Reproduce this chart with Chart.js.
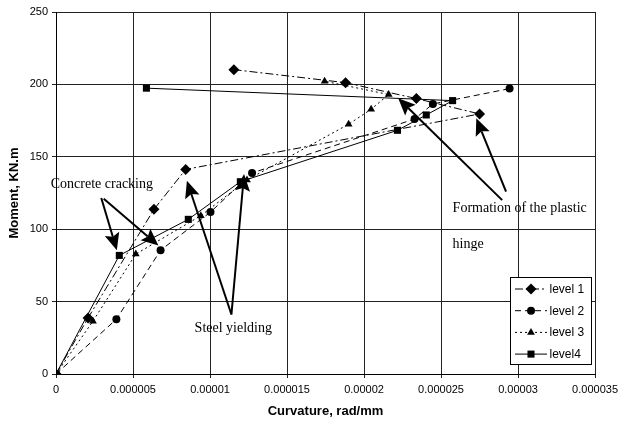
<!DOCTYPE html>
<html>
<head>
<meta charset="utf-8">
<script src="https://cdn.jsdelivr.net/npm/chart.js@4.4.1/dist/chart.umd.min.js"></script>
<style>
  html, body { margin: 0; padding: 0; background: #fff; }
  #wrap { width: 623px; height: 422px; }
</style>
</head>
<body>
<div id="wrap"><canvas id="myCanvas" width="623" height="422"></canvas></div>
<script>
"use strict";

// curvature (rad/mm) and moment (KN.m)
const level1X = [0, 0.00000208, 0.00000636, 0.00000842, 0.0000275, 0.0000234, 0.0000188, 0.00001155];
const level1Y = [0, 38.7, 113.7, 141.3, 179.6, 190.2, 201.2, 210.2];

const level2X = [0, 0.00000392, 0.00000679, 0.00001003, 0.00001273, 0.00002328, 0.00002447, 0.00002945];
const level2Y = [0, 37.8, 85.5, 111.8, 138.8, 176.1, 186.5, 197.1];

const level3X = [0, 0.0000024, 0.00000518, 0.0000094, 0.0000124, 0.000019, 0.00002046, 0.0000216, 0.00001744];
const level3Y = [0, 36.5, 82.8, 109.3, 134, 172.5, 182.8, 193, 202.2];

const level4X = [0, 0.00000411, 0.00000859, 0.00001197, 0.00002217, 0.00002404, 0.00002575, 0.00000587];
const level4Y = [0, 81.9, 106.8, 132.8, 168.3, 178.9, 188.8, 197.4];

const seriesNames = ["level 1", "level 2", "level 3", "level4"];

const xTickValues = [0, 0.000005, 0.00001, 0.000015, 0.00002, 0.000025, 0.00003, 0.000035];
const xTickLabels = ["0", "0.000005", "0.00001", "0.000015", "0.00002", "0.000025", "0.00003", "0.000035"];
const yTickValues = [0, 50, 100, 150, 200, 250];

// annotation arrows: [fromX, fromY, toX, toY] in data units
const crackArrows = [
  [0.00000294, 121.5, 0.00000395, 85.5],
  [0.00000310, 121.0, 0.00000665, 88.7],
];
const steelArrows = [
  [0.00001139, 41.1, 0.0000085, 133.5],
  [0.00001139, 41.1, 0.00001221, 138.1],
];
const hingeArrows = [
  [0.00002897, 120.1, 0.00002222, 190.5],
  [0.00002922, 125.9, 0.00002729, 176.6],
];
// note labels: [text, x, y] (left edge, vertical middle)
const notes = [
  ["Concrete cracking", -0.00000034, 131.2],
  ["Steel yielding", 0.000009, 31.6],
  ["Formation of the plastic", 0.00002575, 114.6],
  ["hinge", 0.00002575, 89.5],
];

function toPoints(xs, ys) {
  return xs.map((x, i) => ({ x: x, y: ys[i] }));
}

const datasets = [
  {
    label: seriesNames[0],
    data: toPoints(level1X, level1Y),
    pointStyle: "rectRot",
    pointRadius: 5.5,
    borderDash: [8, 3, 2, 3],
  },
  {
    label: seriesNames[1],
    data: toPoints(level2X, level2Y),
    pointStyle: "circle",
    pointRadius: 4,
    borderDash: [6, 4],
  },
  {
    label: seriesNames[2],
    data: toPoints(level3X, level3Y),
    pointStyle: "triangle",
    pointRadius: 4.5,
    borderDash: [2, 3],
  },
  {
    label: seriesNames[3],
    data: toPoints(level4X, level4Y),
    pointStyle: "rect",
    pointRadius: 5,
    borderDash: [],
  },
].map((d) =>
  Object.assign(d, {
    showLine: true,
    borderColor: "#000",
    backgroundColor: "#000",
    pointBackgroundColor: "#000",
    pointBorderColor: "#000",
    pointBorderWidth: 0,
    borderWidth: 1,
    tension: 0,
  })
);

function drawArrow(ctx, x1, y1, x2, y2) {
  const ang = Math.atan2(y2 - y1, x2 - x1);
  const len = 17, half = 7.5;
  const bx = x2 - len * Math.cos(ang);
  const by = y2 - len * Math.sin(ang);
  ctx.beginPath();
  ctx.moveTo(x1, y1);
  ctx.lineTo(bx + 3 * Math.cos(ang), by + 3 * Math.sin(ang));
  ctx.stroke();
  ctx.beginPath();
  ctx.moveTo(x2, y2);
  ctx.lineTo(bx + half * Math.sin(ang), by - half * Math.cos(ang));
  ctx.lineTo(bx + 3 * Math.cos(ang), by + 3 * Math.sin(ang));
  ctx.lineTo(bx - half * Math.sin(ang), by + half * Math.cos(ang));
  ctx.closePath();
  ctx.fill();
}

const extras = {
  id: "extras",
  afterDatasetsDraw(chart) {
    const ctx = chart.ctx;
    const xs = chart.scales.x, ys = chart.scales.y;
    ctx.save();
    ctx.strokeStyle = "#000";
    ctx.fillStyle = "#000";
    ctx.lineWidth = 2;
    [].concat(crackArrows, steelArrows, hingeArrows).forEach((a) => {
      drawArrow(ctx, xs.getPixelForValue(a[0]), ys.getPixelForValue(a[1]),
        xs.getPixelForValue(a[2]), ys.getPixelForValue(a[3]));
    });

    ctx.font = "14px 'Liberation Serif', 'Times New Roman', serif";
    ctx.textBaseline = "middle";
    ctx.textAlign = "left";
    notes.forEach((n) => {
      ctx.fillText(n[0], xs.getPixelForValue(n[1]), ys.getPixelForValue(n[2]));
    });

    // axis titles
    ctx.font = "bold 13px 'Liberation Sans', Arial, sans-serif";
    ctx.textAlign = "center";
    ctx.fillText("Curvature, rad/mm", (chart.chartArea.left + chart.chartArea.right) / 2, 411);
    ctx.save();
    ctx.translate(14, (chart.chartArea.top + chart.chartArea.bottom) / 2);
    ctx.rotate(-Math.PI / 2);
    ctx.fillText("Moment, KN.m", 0, 0);
    ctx.restore();

    // legend box
    const lx = 510, ly = 277, lw = 81, lh = 87;
    ctx.fillStyle = "#fff";
    ctx.fillRect(lx, ly, lw, lh);
    ctx.lineWidth = 1;
    ctx.strokeStyle = "#000";
    ctx.strokeRect(lx + 0.5, ly + 0.5, lw, lh);
    ctx.font = "12px 'Liberation Sans', Arial, sans-serif";
    ctx.textAlign = "left";
    chart.data.datasets.forEach((d, i) => {
      const y = ly + 12 + i * 21.7;
      ctx.strokeStyle = "#000";
      ctx.setLineDash(d.borderDash);
      ctx.beginPath();
      ctx.moveTo(lx + 5, y);
      ctx.lineTo(lx + 37, y);
      ctx.stroke();
      ctx.setLineDash([]);
      ctx.fillStyle = "#000";
      Chart.helpers.drawPoint(ctx, {
        pointStyle: d.pointStyle,
        radius: d.pointRadius,
        rotation: 0,
        borderWidth: 0,
      }, lx + 21, y);
      ctx.fillStyle = "#000";
      ctx.fillText(d.label, lx + 39.5, y + 0.5);
    });
    ctx.restore();
  },
};

const ctx = document.getElementById("myCanvas");
new Chart(ctx, {
  type: "scatter",
  data: { datasets: datasets },
  options: {
    responsive: false,
    animation: false,
    layout: { padding: { top: 12, right: 22, left: 0, bottom: 0 } },
    plugins: {
      legend: { display: false },
      tooltip: { enabled: false },
    },
    scales: {
      x: {
        type: "linear",
        min: 0,
        max: 0.000035,
        afterBuildTicks: (s) => {
          s.ticks = xTickValues.map((v) => ({ value: v }));
        },
        afterFit: (s) => {
          s.height = 48;
        },
        ticks: {
          color: "#000",
          font: { family: "'Liberation Sans', Arial, sans-serif", size: 11 },
          padding: 5,
          maxRotation: 0,
          autoSkip: false,
          callback: (v, i) => xTickLabels[i],
        },
        grid: { color: "#222", lineWidth: 1, tickLength: 4 },
        border: { color: "#000", width: 1 },
      },
      y: {
        type: "linear",
        min: 0,
        max: 250,
        afterBuildTicks: (s) => {
          s.ticks = yTickValues.map((v) => ({ value: v }));
        },
        afterFit: (s) => {
          s.width = 56;
        },
        ticks: {
          color: "#000",
          font: { family: "'Liberation Sans', Arial, sans-serif", size: 11 },
          padding: 4,
        },
        grid: { color: "#222", lineWidth: 1, tickLength: 4 },
        border: { color: "#000", width: 1 },
      },
    },
  },
  plugins: [extras],
});
</script>
</body>
</html>
